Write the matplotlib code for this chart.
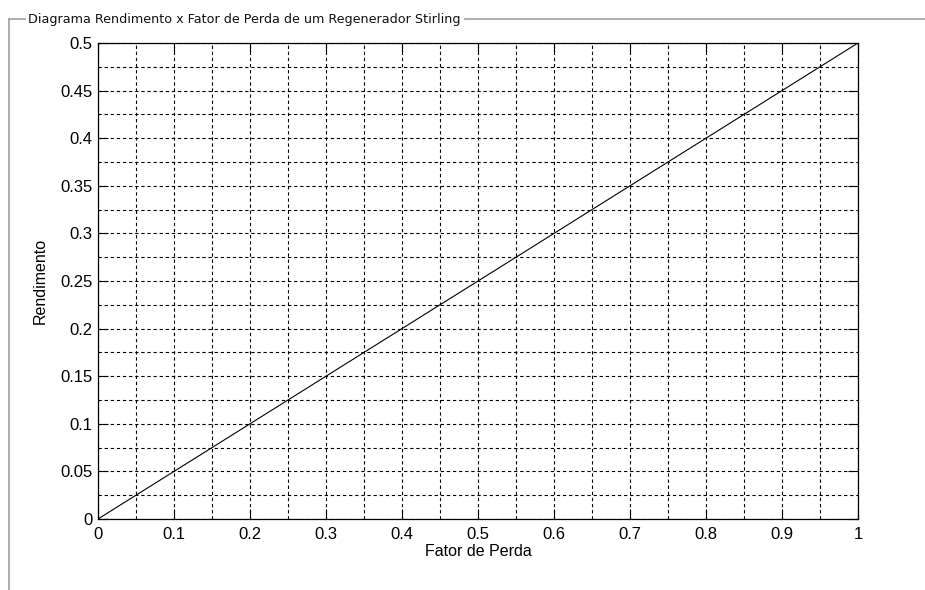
import matplotlib
matplotlib.use("Agg")
import matplotlib.pyplot as plt
from matplotlib.lines import Line2D

plt.rcParams['font.family'] = ['Liberation Sans', 'DejaVu Sans']

# Efficiency vs. loss factor (linear relation)
fator_perda = [0.0, 1.0]
rendimento = [0.0, 0.5]

x_ticks = [0, 0.1, 0.2, 0.3, 0.4, 0.5, 0.6, 0.7, 0.8, 0.9, 1]
x_ticklabels = ['0', '0.1', '0.2', '0.3', '0.4', '0.5', '0.6', '0.7', '0.8', '0.9', '1']
y_ticks = [0, 0.05, 0.1, 0.15, 0.2, 0.25, 0.3, 0.35, 0.4, 0.45, 0.5]
y_ticklabels = ['0', '0.05', '0.1', '0.15', '0.2', '0.25', '0.3', '0.35', '0.4', '0.45', '0.5']
x_minor = [0.05, 0.15, 0.25, 0.35, 0.45, 0.55, 0.65, 0.75, 0.85, 0.95]
y_minor = [0.025, 0.075, 0.125, 0.175, 0.225, 0.275, 0.325, 0.375, 0.425, 0.475]

W, H = 925, 590
fig = plt.figure(figsize=(W / 100, H / 100), dpi=100)
fig.patch.set_facecolor('white')

# Panel frame (group box) with caption
frame_col = '#a0a0a0'
ytop = 1 - 19 / H
fig.add_artist(Line2D([9 / W, 9 / W], [0, ytop], color=frame_col, lw=1.2))
fig.add_artist(Line2D([9 / W, 25 / W], [ytop, ytop], color=frame_col, lw=1.2))
fig.add_artist(Line2D([465 / W, 1], [ytop, ytop], color=frame_col, lw=1.2))
fig.text(28 / W, ytop, 'Diagrama Rendimento x Fator de Perda de um Regenerador Stirling',
         fontsize=9.2, family='DejaVu Sans', va='center', ha='left', color='#111111')

ax = fig.add_axes([98 / W, 71 / H, 760 / W, 476 / H])
ax.plot(fator_perda, rendimento, color='black', lw=0.8)

ax.set_xlim(0, 1)
ax.set_ylim(0, 0.5)
ax.set_xticks(x_ticks)
ax.set_xticklabels(x_ticklabels)
ax.set_yticks(y_ticks)
ax.set_yticklabels(y_ticklabels)
ax.set_xticks(x_minor, minor=True)
ax.set_yticks(y_minor, minor=True)

grid_style = dict(color='black', linestyle=(0, (3, 2.5)), linewidth=0.8)
ax.grid(True, which='both', **grid_style)
ax.tick_params(which='major', direction='in', length=7, width=0.8,
               top=True, right=True, labelsize=12)
ax.tick_params(axis='x', which='major', pad=6)
ax.tick_params(axis='y', which='major', pad=4)
ax.tick_params(which='minor', length=0)
for s in ax.spines.values():
    s.set_linewidth(0.9)

ax.set_xlabel('Fator de Perda', fontsize=11.5, labelpad=1)
ax.set_ylabel('Rendimento', fontsize=11.5, labelpad=9)

fig.savefig('out.png', dpi=100, facecolor='white')
